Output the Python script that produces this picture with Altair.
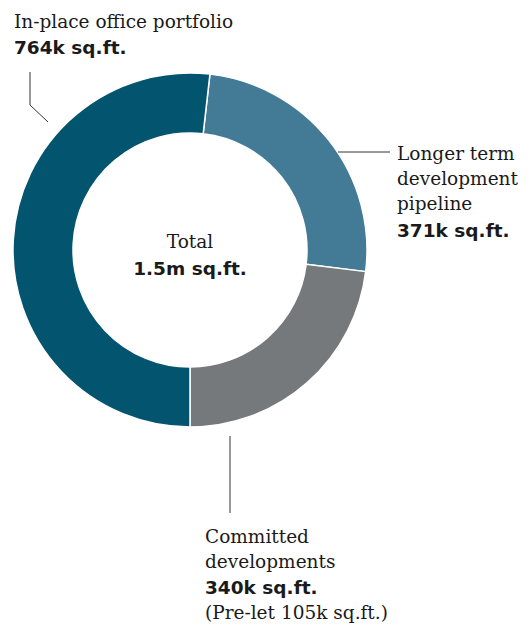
import altair as alt
import pandas as pd
import math

categories = ["Longer term development pipeline", "Committed developments", "In-place office portfolio"]
values = [371, 340, 764]
order = [1, 2, 3]
colors = ["#437b97", "#76797b", "#03546f"]

df = pd.DataFrame({"category": categories, "value": values, "order": order})
total = sum(values)
# committed segment ends exactly at the bottom of the ring
start = math.pi - 2 * math.pi * (values[0] + values[1]) / total

W, H = 530, 628
CX, CY = 190, 250

arc = alt.Chart(df).mark_arc(outerRadius=177, innerRadius=117, stroke="white", strokeWidth=1.5).encode(
    theta=alt.Theta("value:Q", stack=True, scale=alt.Scale(range=[start, start + 2 * math.pi])),
    order=alt.Order("order:Q"),
    color=alt.Color("category:N", scale=alt.Scale(domain=categories, range=colors), legend=None),
    x=alt.value(CX),
    y=alt.value(CY),
)

serif = "DejaVu Serif"
sans = "DejaVu Sans"

labels = [
    ("In-place office portfolio", 14, 28, serif, "left"),
    ("764k sq.ft.", 14, 54, sans, "left"),
    ("Longer term", 397, 160, serif, "left"),
    ("development", 397, 185, serif, "left"),
    ("pipeline", 397, 210, serif, "left"),
    ("371k sq.ft.", 397, 237, sans, "left"),
    ("Total", 190, 248, serif, "center"),
    ("1.5m sq.ft.", 190, 275, sans, "center"),
    ("Committed", 205, 543, serif, "left"),
    ("developments", 205, 568, serif, "left"),
    ("340k sq.ft.", 205, 594, sans, "left"),
    ("(Pre-let 105k sq.ft.)", 205, 619, serif, "left"),
]

layers = [arc]
for t, x, y, f, a in labels:
    layers.append(
        alt.Chart(pd.DataFrame({"t": [t]})).mark_text(
            font=f, fontWeight="bold" if f == sans else "normal",
            fontSize=18.5,
            align=a, baseline="alphabetic", color="#1a1a1a"
        ).encode(text="t:N", x=alt.value(x), y=alt.value(y))
    )

line_color = "#333333"
segs = [(30, 72, 30, 105), (30, 105, 48, 122), (338, 152, 390, 152), (230, 436, 230, 513)]
for x1, y1, x2, y2 in segs:
    layers.append(
        alt.Chart(pd.DataFrame({"a": [0]})).mark_rule(color=line_color, strokeWidth=1).encode(
            x=alt.value(x1), x2=alt.value(x2), y=alt.value(y1), y2=alt.value(y2))
    )

chart = alt.layer(*layers).properties(
    width=W, height=H, padding=0, autosize=alt.AutoSizeParams(type="none")
).configure_view(stroke=None)

chart.save("out.html", embed_options={"renderer": "svg", "actions": False})
